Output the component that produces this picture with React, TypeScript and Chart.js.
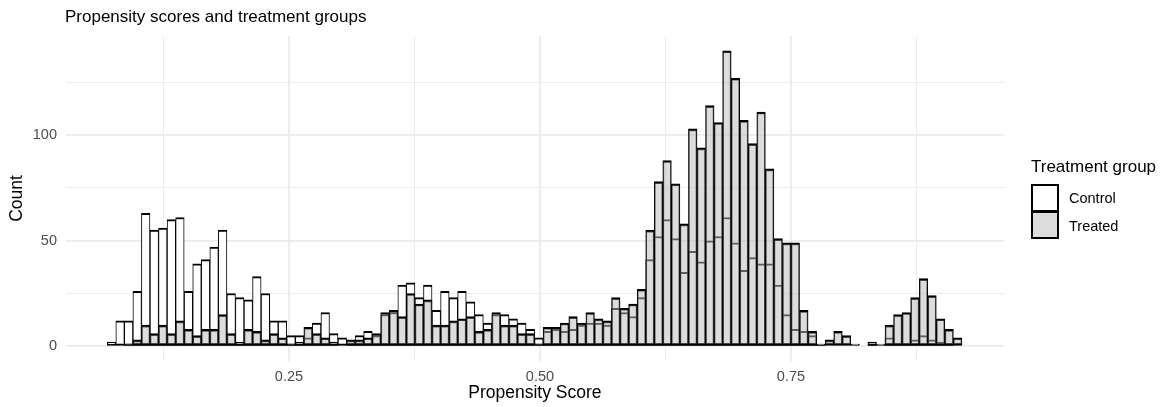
import React, { useEffect, useRef } from 'react';
import { Chart, registerables } from 'chart.js';

Chart.register(...registerables);

const FONT = '"Liberation Sans", Arial, Helvetica, sans-serif';

// Histogram binning (100 bins)
const BIN_START = 0.069;
const BIN_WIDTH = 0.008513;

const controlCounts = [
  2, 12, 12, 26, 63, 55, 56, 60, 61, 26,
  39, 41, 47, 55, 25, 23, 22, 33, 25, 12,
  12, 5, 5, 4, 11, 16, 6, 4, 1, 5,
  7, 5, 15, 16, 29, 30, 23, 29, 17, 26,
  23, 26, 21, 15, 11, 15, 15, 13, 11, 8,
  4, 7, 8, 7, 8, 10, 11, 11, 10, 18,
  16, 14, 23, 41, 52, 60, 51, 35, 45, 40,
  50, 52, 61, 49, 36, 42, 39, 39, 29, 15,
  8, 7, 5, 1, 0, 0, 0, 0, 0, 1,
  0, 4, 1, 1, 3, 5, 3, 2, 1, 0,
];

const treatedCounts = [
  0, 0, 1, 3, 10, 6, 10, 6, 12, 8,
  5, 8, 8, 15, 6, 2, 8, 7, 3, 6,
  4, 1, 2, 9, 6, 4, 2, 0, 3, 3,
  4, 6, 16, 17, 14, 25, 20, 22, 10, 10,
  12, 13, 14, 7, 8, 16, 10, 10, 6, 6,
  1, 9, 9, 11, 14, 11, 16, 13, 12, 23,
  18, 20, 27, 55, 78, 88, 77, 58, 103, 94,
  114, 106, 140, 127, 107, 96, 111, 84, 51, 49,
  49, 17, 7, 1, 3, 7, 5, 1, 0, 2,
  1, 10, 15, 16, 23, 32, 24, 13, 8, 4,
];

const xTickValues = [0.125, 0.25, 0.375, 0.5, 0.625, 0.75, 0.875];
const xTickLabels = ['', '0.25', '', '0.50', '', '0.75', ''];
const yTickValues = [0, 25, 50, 75, 100, 125];
const yTickLabels = ['0', '', '50', '', '100', ''];

const TITLE = 'Propensity scores and treatment groups';
const X_TITLE = 'Propensity Score';
const Y_TITLE = 'Count';
const LEGEND_TITLE = 'Treatment group';
const GROUPS = ['Control', 'Treated'];

const CONTROL_FILL = '#ffffff';
const TREATED_FILL = 'rgba(185,185,185,0.5)';

const binCenters = controlCounts.map((_, i) => BIN_START + (i + 0.5) * BIN_WIDTH);

export default function App() {
  const canvasRef = useRef<HTMLCanvasElement | null>(null);

  useEffect(() => {
    const canvas = canvasRef.current;
    if (!canvas) return;
    Chart.defaults.font.family = FONT;
    const border = { top: 2, bottom: 2, left: 1, right: 1 };
    const chart = new Chart(canvas, {
      type: 'bar',
      data: {
        datasets: [
          {
            label: GROUPS[0],
            data: binCenters.map((x, i) => ({ x, y: controlCounts[i] })),
            backgroundColor: CONTROL_FILL,
            borderColor: '#000000',
            borderWidth: border,
            borderSkipped: false,
            order: 1,
          },
          {
            label: GROUPS[1],
            data: binCenters.map((x, i) => ({ x, y: treatedCounts[i] })),
            backgroundColor: TREATED_FILL,
            borderColor: '#000000',
            borderWidth: border,
            borderSkipped: false,
            order: 0,
          },
        ],
      } as any,
      options: {
        animation: false,
        responsive: false,
        maintainAspectRatio: false,
        devicePixelRatio: 1,
        layout: { padding: { left: 0, right: 163, top: 36, bottom: 0 } },
        plugins: {
          legend: { display: false },
          tooltip: { enabled: false },
          title: { display: false },
        },
        datasets: {
          bar: { grouped: false, barPercentage: 1, categoryPercentage: 1 },
        } as any,
        scales: {
          x: {
            type: 'linear',
            offset: false,
            min: 0.0276,
            max: 0.9622,
            afterBuildTicks: (s: any) => {
              s.ticks = xTickValues.map((v) => ({ value: v }));
            },
            afterFit: (s: any) => {
              s.height = 46;
            },
            ticks: {
              autoSkip: false,
              maxRotation: 0,
              padding: 7,
              color: '#4d4d4d',
              font: { family: FONT, size: 14.5 },
              callback: (_v: any, i: number) => xTickLabels[i],
            },
            grid: {
              offset: false,
              drawTicks: false,
              color: '#ebebeb',
              lineWidth: (ctx: any) => (xTickLabels[ctx.index] ? 1.8 : 0.9),
            },
            border: { display: false },
            title: {
              display: true,
              text: X_TITLE,
              color: '#000000',
              font: { family: FONT, size: 17.5, lineHeight: 1.2 },
              padding: { top: 0, bottom: 3.3 },
            },
          },
          y: {
            type: 'linear',
            min: -7,
            max: 147,
            afterBuildTicks: (s: any) => {
              s.ticks = yTickValues.map((v) => ({ value: v }));
            },
            afterFit: (s: any) => {
              s.width = 65.7;
            },
            ticks: {
              autoSkip: false,
              padding: 8.7,
              color: '#4d4d4d',
              font: { family: FONT, size: 14.5 },
              callback: (_v: any, i: number) => yTickLabels[i],
            },
            grid: {
              drawTicks: false,
              color: '#ebebeb',
              lineWidth: (ctx: any) => (yTickLabels[ctx.index] ? 1.8 : 0.9),
            },
            border: { display: false },
            title: {
              display: true,
              text: Y_TITLE,
              color: '#000000',
              font: { family: FONT, size: 17.5, lineHeight: 1.2 },
              padding: { top: 6.5, bottom: 0 },
            },
          },
        },
      } as any,
    });
    return () => chart.destroy();
  }, []);

  const textBase: React.CSSProperties = {
    position: 'absolute',
    fontFamily: FONT,
    whiteSpace: 'nowrap',
    margin: 0,
  };

  return (
    <div
      style={{
        position: 'fixed',
        left: 0,
        top: 0,
        width: 1167,
        height: 407,
        background: '#ffffff',
        overflow: 'hidden',
      }}
    >
      <canvas
        ref={canvasRef}
        width={1167}
        height={407}
        style={{ position: 'absolute', left: 0, top: 0, width: 1167, height: 407, display: 'block' }}
      />
      <div style={{ ...textBase, left: 65, top: 8, fontSize: 17, lineHeight: '17px', color: '#000' }}>
        {TITLE}
      </div>
      <div style={{ ...textBase, left: 1031, top: 158, fontSize: 17, lineHeight: '17px', color: '#000' }}>
        {LEGEND_TITLE}
      </div>
      <div
        style={{
          position: 'absolute',
          left: 1031,
          top: 184,
          width: 28,
          height: 28,
          boxSizing: 'border-box',
          border: '2px solid #000',
          background: CONTROL_FILL,
        }}
      />
      <div
        style={{
          position: 'absolute',
          left: 1031,
          top: 211,
          width: 28,
          height: 28,
          boxSizing: 'border-box',
          border: '2px solid #000',
          background: TREATED_FILL,
        }}
      />
      <div style={{ ...textBase, left: 1069, top: 191, fontSize: 14.5, lineHeight: '14.5px', color: '#000' }}>
        {GROUPS[0]}
      </div>
      <div style={{ ...textBase, left: 1069, top: 219, fontSize: 14.5, lineHeight: '14.5px', color: '#000' }}>
        {GROUPS[1]}
      </div>
    </div>
  );
}
